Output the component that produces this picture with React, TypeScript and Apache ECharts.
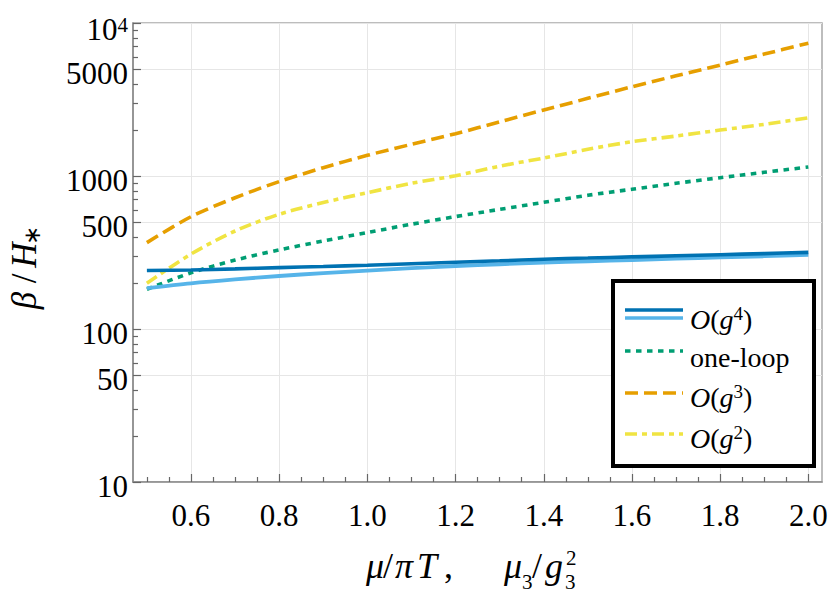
import React, { useEffect, useRef } from "react";
import * as echarts from "echarts";

const xValues = [0.5, 0.6, 0.7, 0.8, 0.9, 1.0, 1.1, 1.2, 1.3, 1.4, 1.5, 1.6, 1.7, 1.8, 1.9, 2.0];
const og4Dark = [241, 243, 247, 252, 256, 261, 267, 273, 279, 286, 291, 296, 301, 306, 311, 317];
const og4Light = [185, 199, 211, 222, 232, 241, 250, 258, 265, 272, 277, 282, 288, 294, 299, 305];
const oneLoop = [182, 233, 282, 329, 376, 427, 484, 543, 605, 673, 748, 819, 896, 975, 1057, 1145];
const og3 = [367, 542, 721, 919, 1133, 1365, 1611, 1890, 2260, 2700, 3217, 3831, 4519, 5309, 6266, 7380];
const og2 = [199, 309, 437, 562, 670, 778, 896, 1004, 1160, 1310, 1495, 1675, 1825, 1996, 2176, 2400];

const xMajorTicks = [0.6, 0.8, 1.0, 1.2, 1.4, 1.6, 1.8, 2.0];
const xTickLabels = ["0.6", "0.8", "1.0", "1.2", "1.4", "1.6", "1.8", "2.0"];
const xMinorTicks = [0.5, 0.55, 0.65, 0.7, 0.75, 0.85, 0.9, 0.95, 1.05, 1.1, 1.15, 1.25, 1.3, 1.35, 1.45, 1.5, 1.55, 1.65, 1.7, 1.75, 1.85, 1.9, 1.95];
const yMajorTicks = [10, 50, 100, 500, 1000, 5000, 10000];
const yTickLabels = ["10", "50", "100", "500", "1000", "5000", "10^4"];
const yMinorTicks = [20, 30, 40, 60, 70, 80, 90, 200, 300, 400, 600, 700, 800, 900, 2000, 3000, 4000, 6000, 7000, 8000, 9000];

const legendNames = ["O(g^4)", "one-loop", "O(g^3)", "O(g^2)"];

const C_DARK = "#0072B2";
const C_LIGHT = "#56B4E9";
const C_GREEN = "#009E73";
const C_ORANGE = "#E69F00";
const C_YELLOW = "#F0E442";

const SERIF = "Liberation Serif";
const X_MIN = 0.4685;
const X_MAX = 2.031;

function pairs(ys: number[]) {
  return xValues.map((x, i) => [x, ys[i]]);
}

function lineSeries(name: string, ys: number[], color: string, type: any, width = 3.6) {
  return {
    name,
    type: "line",
    xAxisIndex: 0,
    yAxisIndex: 0,
    data: pairs(ys),
    showSymbol: false,
    smooth: 0.3,
    clip: true,
    lineStyle: { color, width, type, cap: "butt" },
  };
}

function baseOption() {
  const axisLineStyle = { color: "#8a8a8a", width: 1.5 };
  const tickStyle = { color: "#666", width: 1.2 };
  const gridLine = { color: "#e6e6e6", width: 1 };
  return {
    animation: false,
    backgroundColor: "#fff",
    textStyle: { fontFamily: SERIF, color: "#000" },
    grid: {
      left: 133,
      right: 8,
      top: 23,
      bottom: 119,
      show: true,
      borderColor: "#a8a8a8",
      borderWidth: 1.5,
      backgroundColor: "transparent",
    },
    xAxis: [
      {
        type: "value",
        position: "bottom",
        min: X_MIN,
        max: X_MAX,
        axisLine: { show: true, lineStyle: axisLineStyle },
        axisTick: { show: true, inside: true, length: 8, customValues: xMajorTicks, lineStyle: tickStyle },
        axisLabel: { show: false },
        splitLine: { show: true, lineStyle: gridLine },
      },
      {
        type: "value",
        position: "bottom",
        min: X_MIN,
        max: X_MAX,
        axisLine: { show: false },
        axisTick: { show: true, inside: true, length: 5, customValues: xMinorTicks, lineStyle: tickStyle },
        axisLabel: { show: false },
        splitLine: { show: false },
      },
    ],
    yAxis: [
      {
        type: "log",
        logBase: 10,
        position: "left",
        min: 10,
        max: 10000,
        axisLine: { show: true, lineStyle: axisLineStyle },
        axisTick: { show: true, inside: true, length: 8, customValues: yMajorTicks, lineStyle: tickStyle },
        axisLabel: { show: false },
        splitLine: { show: true, lineStyle: gridLine },
      },
      {
        type: "log",
        logBase: 10,
        position: "left",
        min: 10,
        max: 10000,
        axisLine: { show: false },
        axisTick: { show: true, inside: true, length: 5, customValues: yMinorTicks, lineStyle: tickStyle },
        axisLabel: { show: false },
        splitLine: { show: false },
      },
    ],
    series: [
      lineSeries(legendNames[3], og2, C_YELLOW, [12, 5, 5, 5]),
      lineSeries(legendNames[2], og3, C_ORANGE, [13, 6]),
      lineSeries(legendNames[1], oneLoop, C_GREEN, [5.5, 5.5]),
      lineSeries(legendNames[0] + " (b)", og4Light, C_LIGHT, "solid", 3.8),
      lineSeries(legendNames[0], og4Dark, C_DARK, "solid", 3.6),
    ],
  };
}

function buildGraphic(chart: any) {
  const graphic: any[] = [];

  // tick labels placed through the axes' own scales
  const xAxisY = chart.convertToPixel({ yAxisIndex: 0 }, 10);
  xMajorTicks.forEach((v, i) => {
    const px = chart.convertToPixel({ xAxisIndex: 0 }, v);
    graphic.push({
      type: "text",
      z: 10,
      x: px,
      y: xAxisY + 33,
      style: {
        text: xTickLabels[i],
        fontFamily: SERIF,
        fontSize: 31,
        align: "center",
        verticalAlign: "middle",
        fill: "#000",
      },
    });
  });
  yMajorTicks.forEach((v, i) => {
    const py = chart.convertToPixel({ yAxisIndex: 0 }, v);
    const lab = yTickLabels[i];
    const isPow = lab.indexOf("^") >= 0;
    const parts = lab.split("^");
    graphic.push({
      type: "text",
      z: 10,
      x: 128,
      y: py + (isPow ? 6 : 4.5),
      style: {
        text: isPow ? "{b|" + parts[0] + "}{p|" + parts[1] + "}" : "{b|" + lab + "}",
        rich: {
          b: { fontFamily: SERIF, fontSize: 31, lineHeight: 30, fill: "#000" },
          p: { fontFamily: SERIF, fontSize: 21, lineHeight: 10, verticalAlign: "top", fill: "#000" },
        },
        align: "right",
        verticalAlign: "middle",
        fill: "#000",
      },
    });
  });

  // legend
  const legendRich = {
    i: { fontFamily: SERIF, fontSize: 28, fontStyle: "italic", lineHeight: 30, fill: "#000" },
    n: { fontFamily: SERIF, fontSize: 28, lineHeight: 30, fill: "#000" },
    p: { fontFamily: SERIF, fontSize: 19, lineHeight: 12, verticalAlign: "top", fill: "#000" },
  };
  graphic.push({
    type: "rect",
    z: 100,
    shape: { x: 613, y: 281, width: 201, height: 185 },
    style: { fill: "#fff", stroke: "#000", lineWidth: 4 },
  });
  graphic.push({
    type: "line",
    z: 101,
    shape: { x1: 625, y1: 310, x2: 683, y2: 310 },
    style: { stroke: C_DARK, lineWidth: 3.6 },
  });
  graphic.push({
    type: "line",
    z: 101,
    shape: { x1: 625, y1: 318, x2: 683, y2: 318 },
    style: { stroke: C_LIGHT, lineWidth: 3.6 },
  });
  const legendRows = [
    { y: 314, textY: 319, color: "", dash: null as any, label: "{i|O}{n|(}{i|g}{p|4}{n|)}" },
    { y: 351, textY: 357, color: C_GREEN, dash: [5.5, 5.5], label: "{n|one-loop}" },
    { y: 393, textY: 397, color: C_ORANGE, dash: [13, 6], label: "{i|O}{n|(}{i|g}{p|3}{n|)}" },
    { y: 434, textY: 438, color: C_YELLOW, dash: [12, 5, 5, 5], label: "{i|O}{n|(}{i|g}{p|2}{n|)}" },
  ];
  legendRows.forEach((r) => {
    if (r.color) {
      graphic.push({
        type: "line",
        z: 101,
        shape: { x1: 625, y1: r.y, x2: 683, y2: r.y },
        style: { stroke: r.color, lineWidth: 3.6, lineDash: r.dash },
      });
    }
    graphic.push({
      type: "text",
      z: 101,
      x: 690,
      y: r.textY,
      style: { text: r.label, rich: legendRich, align: "left", verticalAlign: "middle", fill: "#000" },
    });
  });

  // x-axis title
  const tI = (w: number) => ({ fontFamily: SERIF, fontSize: 36, fontStyle: "italic", lineHeight: 53, width: w, fill: "#000" });
  const tN = (w: number) => ({ fontFamily: SERIF, fontSize: 36, lineHeight: 53, width: w, fill: "#000" });
  graphic.push({
    type: "text",
    z: 10,
    x: 366,
    y: 566,
    style: {
      text: "{a|μ}{b|/}{c|π}{d|T}{e|,}{f|μ}{s|3}{g|/}{h|g}{s|3}",
      rich: {
        a: tI(17),
        b: tN(12),
        c: tI(22),
        d: tI(27),
        e: tN(60),
        f: tI(18),
        s: { fontFamily: SERIF, fontSize: 21, lineHeight: 21, width: 10, verticalAlign: "bottom", fill: "#000" },
        g: tN(13),
        h: tI(20),
      },
      align: "left",
      verticalAlign: "middle",
      fill: "#000",
    },
  });
  graphic.push({
    type: "text",
    z: 10,
    x: 566,
    y: 558,
    style: { text: "2", fontFamily: SERIF, fontSize: 21, align: "left", verticalAlign: "middle", fill: "#000" },
  });

  // y-axis title
  graphic.push({
    type: "text",
    z: 10,
    x: 24,
    y: 270,
    rotation: Math.PI / 2,
    style: {
      text: "{i|β}{n|/}{h|H}{s|∗}",
      rich: {
        i: { fontFamily: SERIF, fontSize: 35, fontStyle: "italic", lineHeight: 40, width: 23, fill: "#000" },
        n: { fontFamily: SERIF, fontSize: 35, lineHeight: 40, width: 21, fill: "#000" },
        h: { fontFamily: SERIF, fontSize: 35, fontStyle: "italic", lineHeight: 40, width: 26, fill: "#000" },
        s: { fontFamily: SERIF, fontSize: 23, lineHeight: 23, width: 14, verticalAlign: "bottom", fill: "#000" },
      },
      align: "center",
      verticalAlign: "middle",
      fill: "#000",
    },
  });
  return graphic;
}

export default function App() {
  const ref = useRef<HTMLDivElement>(null);
  useEffect(() => {
    if (!ref.current) return;
    const chart = echarts.init(ref.current, null, { renderer: "svg" });
    chart.setOption(baseOption() as any);
    chart.setOption({ graphic: buildGraphic(chart) } as any);
    return () => chart.dispose();
  }, []);
  return (
    <div
      ref={ref}
      style={{ position: "fixed", left: 0, top: 0, width: 830, height: 601, background: "#fff" }}
    />
  );
}
